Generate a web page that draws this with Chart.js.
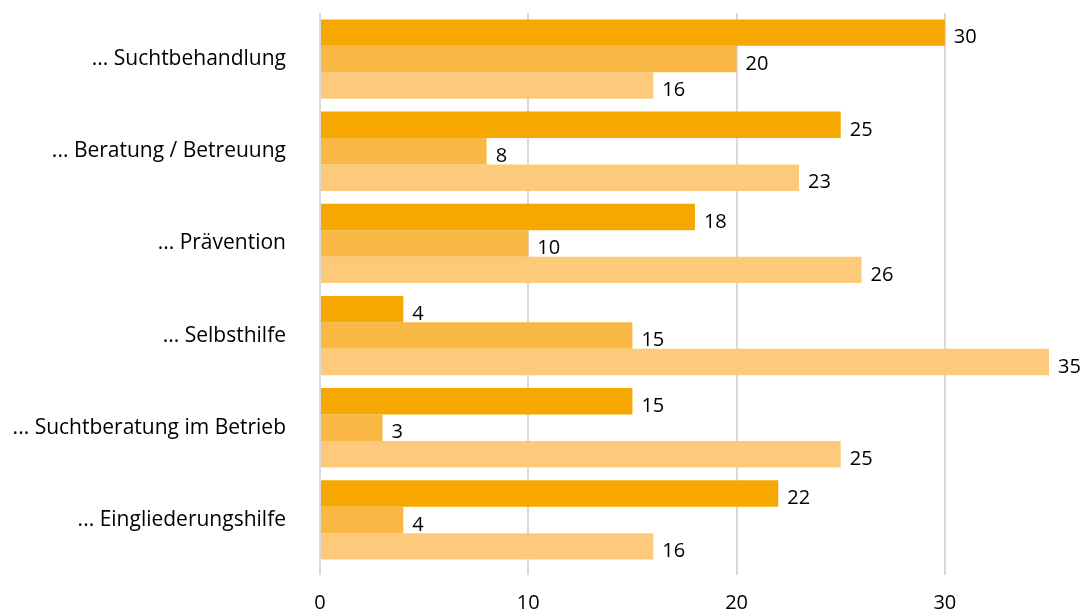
<!DOCTYPE html>
<html lang="de">
<head>
  <meta charset="UTF-8" />
  <title>Angebote</title>
  <script src="https://cdn.jsdelivr.net/npm/chart.js"></script>
  <style>
    * { margin: 0; padding: 0; box-sizing: border-box; }
    body { background: #fff; width: 1087px; height: 610px; overflow: hidden; }
    .wrap { position: relative; width: 1087px; height: 610px; }
  </style>
</head>
<body>
  <div class="wrap"><canvas id="chart"></canvas></div>
  <script>
    const categories = [
      '... Suchtbehandlung',
      '... Beratung / Betreuung',
      '... Prävention',
      '... Selbsthilfe',
      '... Suchtberatung im Betrieb',
      '... Eingliederungshilfe'
    ];
    const series1 = [30, 25, 18, 4, 15, 22];
    const series2 = [20, 8, 10, 15, 3, 4];
    const series3 = [16, 23, 26, 35, 25, 16];
    const tickValues = [0, 10, 20, 30];
    const colors = ['#F7A800', '#F9B843', '#FCCA7A'];

    const FONT = "'Open Sans', 'Noto Sans', sans-serif";

    // draws the value next to the end of each bar
    const valueLabels = {
      id: 'valueLabels',
      afterDatasetsDraw(chart) {
        const ctx = chart.ctx;
        ctx.save();
        ctx.font = '20px ' + FONT;
        ctx.fillStyle = '#000';
        ctx.textAlign = 'left';
        ctx.textBaseline = 'middle';
        chart.data.datasets.forEach((ds, di) => {
          const meta = chart.getDatasetMeta(di);
          meta.data.forEach((bar, i) => {
            ctx.fillText(ds.data[i], bar.x + 9, bar.y + 5);
          });
        });
        ctx.restore();
      }
    };

    new Chart(document.getElementById('chart'), {
      type: 'bar',
      data: {
        labels: categories,
        datasets: [
          { data: series1, backgroundColor: colors[0] },
          { data: series2, backgroundColor: colors[1] },
          { data: series3, backgroundColor: colors[2] }
        ]
      },
      options: {
        indexAxis: 'y',
        responsive: true,
        maintainAspectRatio: false,
        animation: false,
        layout: { padding: { top: 13, right: 38, left: 0, bottom: 0 } },
        datasets: { bar: { categoryPercentage: 0.86, barPercentage: 1.0 } },
        plugins: { legend: { display: false }, tooltip: { enabled: false } },
        scales: {
          x: {
            min: 0,
            max: 35,
            afterBuildTicks: axis => { axis.ticks = tickValues.map(v => ({ value: v })); },
            afterFit: scale => { scale.height = 44; },
            border: { display: false },
            grid: { color: '#D9D9D9', lineWidth: 2, drawTicks: true, tickLength: 9 },
            ticks: { color: '#000', font: { family: FONT, size: 20 }, padding: 16 }
          },
          y: {
            afterFit: scale => { scale.width = 320; },
            border: { display: false },
            grid: { display: true, drawOnChartArea: false, drawTicks: true, tickLength: 34, color: 'rgba(0,0,0,0)' },
            ticks: { color: '#000', font: { family: FONT, size: 21 }, padding: 0 }
          }
        }
      },
      plugins: [valueLabels]
    });
  </script>
</body>
</html>
